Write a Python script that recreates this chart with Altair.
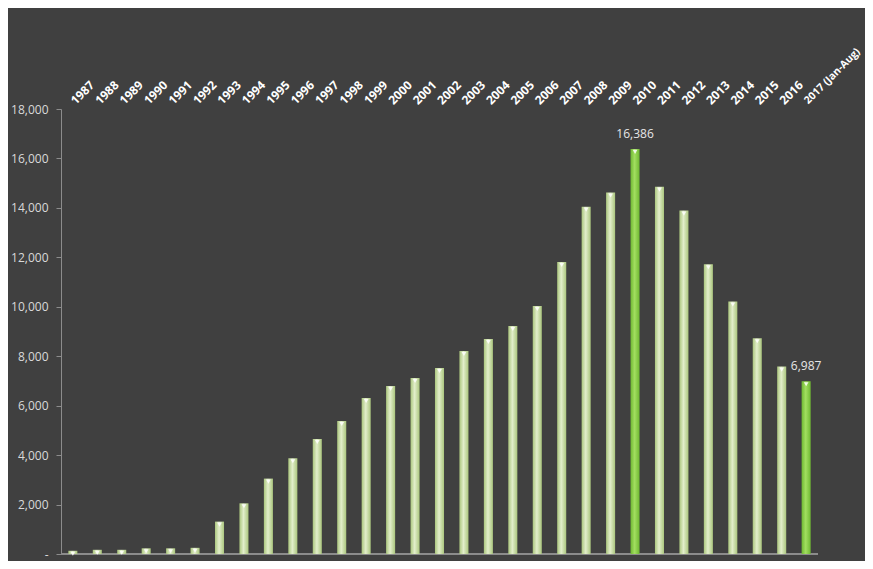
import altair as alt
import pandas as pd

labels = ["1987", "1988", "1989", "1990", "1991", "1992", "1993", "1994", "1995", "1996",
          "1997", "1998", "1999", "2000", "2001", "2002", "2003", "2004", "2005", "2006",
          "2007", "2008", "2009", "2010", "2011", "2012", "2013", "2014", "2015", "2016",
          "2017 (Jan-Aug)"]
values = [130, 170, 170, 230, 230, 250, 1310, 2050, 3050, 3870,
          4650, 5380, 6310, 6800, 7120, 7520, 8210, 8700, 9220, 10030,
          11810, 14050, 14620, 16386, 14860, 13890, 11720, 10210, 8730, 7580,
          6987]
highlight = ["2010", "2017 (Jan-Aug)"]

df = pd.DataFrame({"label": labels, "value": values})
df["hl"] = df["label"].isin(highlight)

BG = "#404040"

x = alt.X("label:N", sort=labels, title=None,
          scale=alt.Scale(paddingInner=0.63, paddingOuter=0.3),
          axis=alt.Axis(orient="top", labelAngle=315, labelAlign="left", labelBaseline="middle",
                        labelColor="#ffffff", labelFont="Open Sans", labelFontWeight="bold",
                        labelFontSize={"condition": {"test": "length(datum.label) > 4", "value": 10.5},
                                       "value": 12},
                        labelPadding=7, labelLimit=200,
                        domain=False, ticks=False))
y = alt.Y("value:Q", title=None,
          scale=alt.Scale(domain=[0, 18000], nice=False),
          axis=alt.Axis(values=list(range(0, 18001, 2000)), grid=False,
                        labelExpr="datum.value == 0 ? '-' : format(datum.value, ',')",
                        labelColor="#d9d9d9", labelFont="Open Sans", labelFontSize=12,
                        labelPadding=8, domainColor="#8c8c8c", tickColor="#8c8c8c",
                        tickSize=5))

base = alt.Chart(df)

light = alt.Gradient(gradient="linear", x1=0, y1=0, x2=1, y2=0, stops=[
    alt.GradientStop(offset=0, color="#abc67e"),
    alt.GradientStop(offset=0.45, color="#e2eecb"),
    alt.GradientStop(offset=1, color="#abc67e")])
green = alt.Gradient(gradient="linear", x1=0, y1=0, x2=1, y2=0, stops=[
    alt.GradientStop(offset=0, color="#6fb832"),
    alt.GradientStop(offset=0.45, color="#a2de60"),
    alt.GradientStop(offset=1, color="#6fb832")])

bars_light = base.transform_filter("!datum.hl").mark_bar(color=light).encode(x=x, y=y)
bars_green = base.transform_filter("datum.hl").mark_bar(color=green).encode(x=x, y=y)

tips = base.mark_point(shape="triangle-down", filled=True, color="#ffffff", opacity=0.85,
                       size=22, yOffset=3).encode(x=x, y=y)

texts = base.transform_filter("datum.hl").mark_text(
    baseline="bottom", dy=-8, color="#e6e6e6", font="Open Sans", fontSize=12
).encode(x=x, y=y, text=alt.Text("value:Q", format=","))

zero = alt.Chart(df).mark_rule(color="#8c8c8c", strokeWidth=1).encode(y=alt.datum(0))

chart = alt.layer(zero, bars_light, bars_green, tips, texts).properties(
    width=757, height=445,
    background=BG,
    padding={"left": 53, "top": 101, "right": 47, "bottom": 7},
    autosize=alt.AutoSizeParams(type="none"),
).configure_view(stroke=None)

chart.save("out.html", embed_options={"renderer": "svg", "actions": False})
